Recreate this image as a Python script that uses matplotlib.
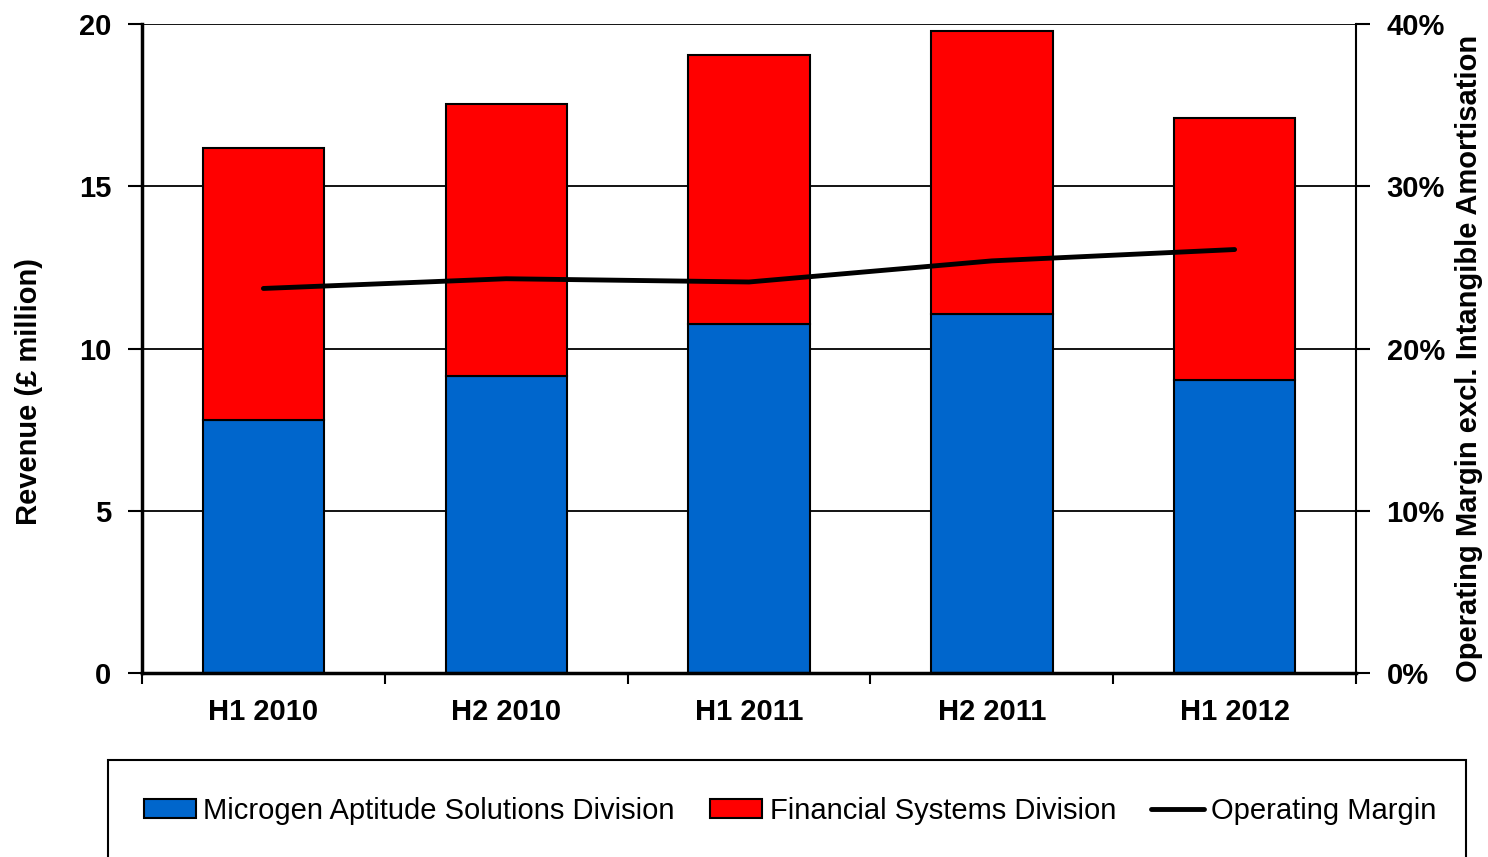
import matplotlib
matplotlib.use("Agg")
import matplotlib.pyplot as plt
from matplotlib.patches import Rectangle
from matplotlib.ticker import FuncFormatter, FixedLocator
import numpy as np

plt.rcParams['font.family'] = ['Liberation Sans', 'DejaVu Sans']

categories = ["H1 2010", "H2 2010", "H1 2011", "H2 2011", "H1 2012"]
aptitude = [7.80, 9.15, 10.75, 11.06, 9.03]
financial = [8.38, 8.38, 8.29, 8.72, 8.07]
margin = [23.7, 24.3, 24.1, 25.4, 26.1]

blue = "#0066CC"
red = "#FF0000"

fig = plt.figure(figsize=(14.88, 8.57), dpi=100)
W, H = 1488, 857
ax = fig.add_axes([142 / W, 1 - 673 / H, (1356 - 142) / W, (673 - 24) / H])
ax2 = ax.twinx()

x = np.arange(len(categories))
ax.set_axisbelow(True)
ax.yaxis.grid(True, color="black", linewidth=1.3)
b1 = ax.bar(x, aptitude, width=0.5, color=blue, edgecolor="black", linewidth=1.5,
            label="Microgen Aptitude Solutions Division", zorder=2)
b2 = ax.bar(x, financial, width=0.5, bottom=aptitude, color=red, edgecolor="black",
            linewidth=1.5, label="Financial Systems Division", zorder=2)

ax.set_xlim(-0.5, len(categories) - 0.5)
ax.set_ylim(0, 20)
ax.set_yticks([0, 5, 10, 15, 20])
ax.set_xticks(x)
ax.set_xticklabels(categories, fontsize=21, fontweight="bold")
ax.xaxis.set_minor_locator(FixedLocator(np.arange(-0.5, len(categories), 1.0)))
ax.tick_params(axis="x", which="major", length=0, pad=18)
ax.tick_params(axis="x", which="minor", length=8, width=1.5, direction="out")
ax.tick_params(axis="y", length=10, width=1.5, direction="out", labelsize=21, pad=12)
for lab in ax.get_yticklabels():
    lab.set_fontweight("bold")
ax.set_ylabel("Revenue (£ million)", fontsize=21, fontweight="bold")
ax.yaxis.set_label_coords(-0.0815, 0.4345)

for s in ["top"]:
    ax.spines[s].set_visible(False)
    ax2.spines[s].set_visible(False)
ax.spines["left"].set_linewidth(2.5)
ax.spines["bottom"].set_linewidth(2.5)
ax.spines["right"].set_visible(False)
ax2.spines["left"].set_visible(False)
ax2.spines["bottom"].set_visible(False)
ax2.spines["right"].set_linewidth(1.5)

ax2.set_zorder(ax.get_zorder() + 1)
ax2.patch.set_visible(False)
ln, = ax2.plot(x, margin, color="black", linewidth=3.5, solid_capstyle="round",
               label="Operating Margin")
ax2.set_ylim(0, 40)
ax2.set_yticks([0, 10, 20, 30, 40])
ax2.yaxis.set_major_formatter(FuncFormatter(lambda v, p: f"{v:.0f}%"))
ax2.tick_params(axis="y", length=10, width=1.5, direction="out", labelsize=21, pad=12)
for lab in ax2.get_yticklabels():
    lab.set_fontweight("bold")
ax2.set_ylabel("Operating Margin excl. Intangible Amortisation", fontsize=21,
               fontweight="bold")
ax2.yaxis.set_label_coords(1.0815, 0.4854)

# legend box
rect = Rectangle((108 / W, -0.02), (1466 - 108) / W, (857 - 760) / H + 0.02,
                 transform=fig.transFigure, facecolor="white", edgecolor="black",
                 linewidth=1.5, clip_on=False)
fig.patches.append(rect)
fig.legend(handles=[b1, b2, ln], loc="center", bbox_to_anchor=(790 / W, 1 - 811 / H),
           ncol=3, frameon=False, fontsize=21, handlelength=1.8, handleheight=0.6,
           handletextpad=0.25, columnspacing=1.2)

fig.savefig("out.png", dpi=100)
